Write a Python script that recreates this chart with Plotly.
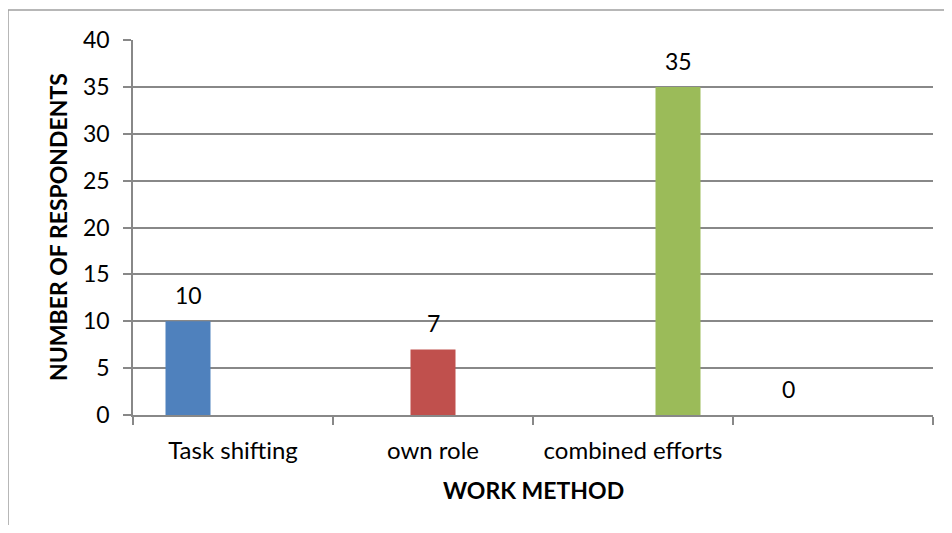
import plotly.graph_objects as go

categories = ["Task shifting", "own role", "combined efforts", " "]
series_names = ["Task shifting", "own role", "combined efforts"]
values_task = [10, 0, 0, 0]
values_own = [0, 7, 0, 0]
values_comb = [0, 0, 35, 0]
show_label_task = [True, False, False, True]
show_label_own = [False, True, False, False]
show_label_comb = [False, False, True, False]
colors = ["#4F81BD", "#C0504D", "#9BBB59"]
y_ticks = [0, 5, 10, 15, 20, 25, 30, 35, 40]

FONT = "Lato, 'Open Sans', sans-serif"
BODY = 8  # default page body margin
W, H = 952 - 2 * BODY, 533 - 2 * BODY
# plot area in page pixels: x 133..933, y 40..415
ML, MT = 133 - BODY, 40 - BODY
MR, MB = W - (933 - BODY), H - (415 - BODY)
plot_w = W - ML - MR
plot_h = H - MT - MB

fig = go.Figure()
series = [values_task, values_own, values_comb]
flags = [show_label_task, show_label_own, show_label_comb]
bargap = 0.325
n = len(series)
bar_px = plot_w / len(categories) * (1 - bargap) / n

annotations = []
for i, (name, vals, fl, col) in enumerate(zip(series_names, series, flags, colors)):
    fig.add_trace(go.Bar(x=categories, y=vals, name=name, marker=dict(color=col, line=dict(width=0)),
                         hoverinfo="x+y"))
    offset = (i - (n - 1) / 2) * bar_px
    for ci, (v, f) in enumerate(zip(vals, fl)):
        if f:
            annotations.append(dict(x=ci, y=v, xref="x", yref="y", text=str(v), showarrow=False,
                                    xshift=offset, yshift=26, yanchor="middle",
                                    font=dict(family=FONT, size=23, color="#000000")))

annotations.append(dict(x=(58 - 133) / plot_w, y=(415 - 227) / plot_h, xref="paper", yref="paper",
                        text="<b>NUMBER OF RESPONDENTS</b>", textangle=-90, showarrow=False,
                        xanchor="center", yanchor="middle",
                        font=dict(family=FONT, size=23, color="#000000")))
annotations.append(dict(x=0.5, y=-(490 - 415) / plot_h, xref="paper", yref="paper",
                        text="<b>WORK METHOD</b>", showarrow=False,
                        xanchor="center", yanchor="middle",
                        font=dict(family=FONT, size=23, color="#000000")))

axis_col = "#888888"
fig.update_layout(
    width=W, height=H,
    margin=dict(l=ML, r=MR, t=MT, b=MB, pad=0),
    paper_bgcolor="white", plot_bgcolor="white",
    barmode="group", bargap=bargap, bargroupgap=0,
    showlegend=False,
    font=dict(family=FONT, size=23, color="#000000"),
    annotations=annotations,
    shapes=[dict(type="rect", xref="paper", yref="paper",
                 x0=(8 - 133) / plot_w, x1=1.2, y0=-0.6, y1=(415 - 10) / plot_h,
                 line=dict(color="#a0a0a0", width=1.5), fillcolor="rgba(0,0,0,0)", layer="below")],
    xaxis=dict(type="category", categoryorder="array", categoryarray=categories,
               showline=True, linecolor=axis_col, linewidth=1.5,
               ticks="outside", ticklen=8, tickcolor=axis_col, tickwidth=1.5,
               tickson="boundaries", showgrid=False, zeroline=False,
               tickfont=dict(family=FONT, size=24, color="#000000"), ticklabelstandoff=13),
    yaxis=dict(range=[0, 40], tickvals=y_ticks, showline=True, linecolor=axis_col, linewidth=1.5,
               ticks="outside", ticklen=8, tickcolor=axis_col, tickwidth=1.5,
               showgrid=True, gridcolor=axis_col, gridwidth=1.5, zeroline=False,
               tickfont=dict(family=FONT, size=23, color="#000000"), ticklabelstandoff=9),
)

fig.write_html("out.html")
